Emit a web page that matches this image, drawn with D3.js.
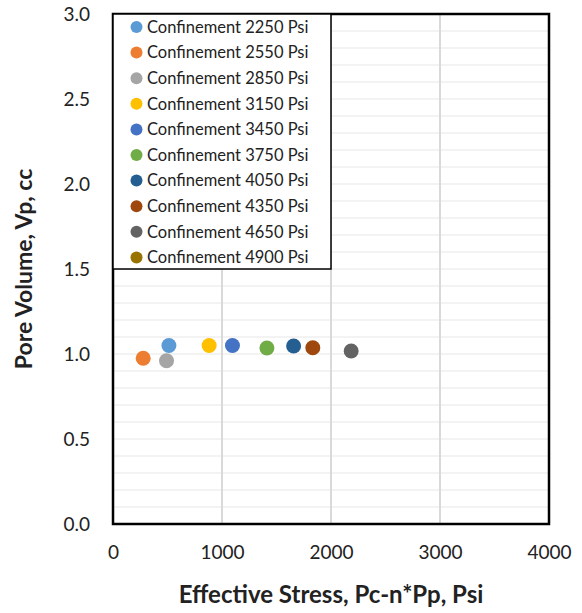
<!DOCTYPE html>
<html>
<head>
<meta charset="utf-8">
<script src="https://cdn.jsdelivr.net/npm/d3@7"></script>
<style>
	body { margin: 0; background: #fff; }
	svg { display: block; font-family: Lato, "Open Sans", sans-serif; }
</style>
</head>
<body>
<div id="chart"></div>
<script>
// confinement series (legend labels) and their colours
const series = ["Confinement 2250 Psi", "Confinement 2550 Psi", "Confinement 2850 Psi", "Confinement 3150 Psi",
	"Confinement 3450 Psi", "Confinement 3750 Psi", "Confinement 4050 Psi", "Confinement 4350 Psi",
	"Confinement 4650 Psi", "Confinement 4900 Psi"];
const colors = ["#5B9BD5", "#ED7D31", "#A5A5A5", "#FFC000", "#4472C4", "#70AD47", "#255E91", "#9E480E", "#636363", "#997300"];

// one point per series (4900 has no visible point)
const effStress = [513, 277, 491, 882, 1096, 1412, 1657, 1833, 2185, null];
const poreVolume = [1.05, 0.975, 0.96, 1.05, 1.05, 1.035, 1.047, 1.037, 1.018, null];

const xTicks = [0, 1000, 2000, 3000, 4000];
const yTicks = [0, 0.5, 1, 1.5, 2, 2.5, 3];

const W = 582, H = 613;
const margin = { top: 14, right: 33, bottom: 89, left: 113 };
const width = W - margin.left - margin.right;
const height = H - margin.top - margin.bottom;

const svg = d3.select("#chart").append("svg").attr("width", W).attr("height", H);
const g = svg.append("g").attr("transform", `translate(${margin.left},${margin.top})`);

const x = d3.scaleLinear().domain([0, 4000]).range([0, width]);
const y = d3.scaleLinear().domain([0, 3]).range([height, 0]);

// minor horizontal grid every 0.1
g.append("g")
	.selectAll("line")
	.data(d3.range(1, 30).map((d) => d / 10))
	.join("line")
	.attr("x1", 0)
	.attr("x2", width)
	.attr("y1", (d) => y(d))
	.attr("y2", (d) => y(d))
	.attr("stroke", "#efefef")
	.attr("stroke-width", 1.5);

// vertical grid
g.append("g")
	.selectAll("line")
	.data(xTicks.slice(1, -1))
	.join("line")
	.attr("x1", (d) => x(d))
	.attr("x2", (d) => x(d))
	.attr("y1", 0)
	.attr("y2", height)
	.attr("stroke", "#d9d9d9")
	.attr("stroke-width", 2);

const points = series.map((s, i) => ({ name: s, color: colors[i], x: effStress[i], y: poreVolume[i] }))
	.filter((d) => d.x != null);

g.append("g")
	.selectAll("circle")
	.data(points)
	.join("circle")
	.attr("cx", (d) => x(d.x))
	.attr("cy", (d) => y(d.y))
	.attr("r", 7.5)
	.attr("fill", (d) => d.color);

// axes (labels only, no tick marks)
const xAxis = g.append("g")
	.attr("transform", `translate(0,${height})`)
	.call(d3.axisBottom(x).tickValues(xTicks).tickFormat(d3.format("d")).tickSize(0).tickPadding(22));
const yAxis = g.append("g")
	.call(d3.axisLeft(y).tickValues(yTicks).tickFormat(d3.format(".1f")).tickSize(0).tickPadding(23));
[xAxis, yAxis].forEach((a) => {
	a.select(".domain").remove();
	a.selectAll("text").attr("font-size", 19).attr("fill", "#222").style("font-family", "Lato, sans-serif");
});

// plot frame
g.append("rect")
	.attr("width", width)
	.attr("height", height)
	.attr("fill", "none")
	.attr("stroke", "#000")
	.attr("stroke-width", 2.5);

// legend
const legend = g.append("g");
const rowH = 25.6;
legend.append("rect")
	.attr("x", 0)
	.attr("y", 0)
	.attr("width", 218)
	.attr("height", 255)
	.attr("fill", "#fff")
	.attr("stroke", "#000")
	.attr("stroke-width", 1.5);
const rows = legend.selectAll("g.row")
	.data(series)
	.join("g")
	.attr("class", "row")
	.attr("transform", (d, i) => `translate(0,${13 + i * rowH})`);
rows.append("circle").attr("cx", 23.5).attr("r", 6).attr("fill", (d, i) => colors[i]);
rows.append("text")
	.attr("x", 34)
	.attr("dy", "0.35em")
	.attr("font-size", 16.5)
	.attr("fill", "#222")
	.text((d) => d);

// axis titles
svg.append("text")
	.attr("x", margin.left + width / 2)
	.attr("y", 603)
	.attr("text-anchor", "middle")
	.attr("font-size", 24)
	.attr("font-weight", "bold")
	.attr("fill", "#222")
	.text("Effective Stress, Pc-n*Pp, Psi");

svg.append("text")
	.attr("transform", `translate(32,${margin.top + height / 2}) rotate(-90)`)
	.attr("text-anchor", "middle")
	.attr("font-size", 23)
	.attr("font-weight", "bold")
	.attr("fill", "#222")
	.text("Pore Volume, Vp, cc");
</script>
</body>
</html>
